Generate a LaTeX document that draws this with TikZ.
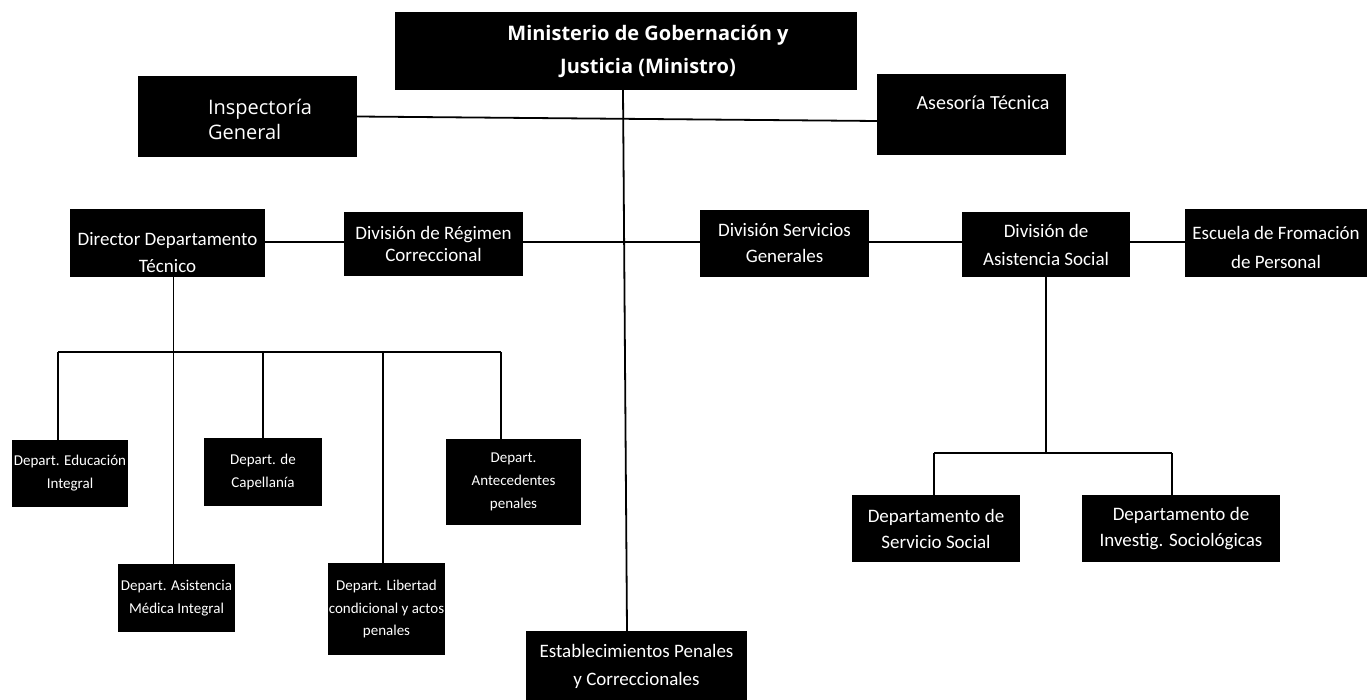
\documentclass[tikz,border=0pt]{standalone}
\usepackage{fontspec}
\setmainfont{Carlito}
\newfontfamily\osans{Open Sans}
\begin{document}
\begin{tikzpicture}[x=1pt,y=-1pt,
  box/.style={fill=black, draw=none, inner sep=0pt, text=white, align=center},
  mid/.style={font=\fontsize{19}{26}\selectfont},
  small/.style={font=\fontsize{15}{23}\selectfont},
  lbl/.style={text=white, align=center, inner sep=0pt},
  link/.style={draw=black, line width=1.8pt}]
\useasboundingbox[fill=white] (0,0) rectangle (1369,700);

% top level
\node[box, minimum width=462, minimum height=78,
  label={[lbl, font=\osans\bfseries\fontsize{20}{33}\selectfont, xshift=22pt]center:{Ministerio de Gobernación y\\Justicia (Ministro)}}]
  (mini) at (626,51) {};
\node[box, minimum width=219, minimum height=81,
  label={[lbl, align=left, font=\osans\fontsize{20}{25}\selectfont, xshift=12.5pt, yshift=-3pt]center:{Inspectoría\\General}}]
  (insp) at (247.5,116.5) {};
\node[box, minimum width=189, minimum height=81,
  label={[lbl, font=\fontsize{20}{26}\selectfont, xshift=11.5pt, yshift=11.5pt]center:{Asesoría Técnica}}]
  (ases) at (971.5,114.5) {};

% second level
\node[box, minimum width=195, minimum height=68,
  label={[lbl, yshift=-10pt, font=\fontsize{19}{27}\selectfont]center:{Director Departamento\\Técnico}}]
  (dir) at (167.5,243) {};
\node[box, minimum width=179, minimum height=64, font=\fontsize{19}{22}\selectfont] (reg) at (433.5,244) {División de Régimen\\Correccional};
\node[box, mid, minimum width=169, minimum height=67] (serv) at (784.5,243.5) {División Servicios\\Generales};
\node[box, minimum width=168, minimum height=65, font=\fontsize{19}{28}\selectfont] (asis) at (1046,244.5) {División de\\Asistencia Social};
\node[box, minimum width=182, minimum height=68,
  label={[lbl, font=\fontsize{19}{29}\selectfont, yshift=-4pt]center:{Escuela de Fromación\\de Personal}}] (esc) at (1276,243) {};

% departments of Director
\node[box, small, minimum width=116, minimum height=67] (edu) at (70,473.5) {Depart. Educación\\Integral};
\node[box, small, minimum width=118, minimum height=68] (cap) at (263,472) {Depart. de\\Capellanía};
\node[box, small, minimum width=135, minimum height=86] (ant) at (513.5,482) {Depart.\\Antecedentes\\penales};
\node[box, small, minimum width=117, minimum height=68] (med) at (176.5,598) {Depart. Asistencia\\Médica Integral};
\node[box, small, minimum width=117, minimum height=92] (lib) at (386.5,609) {Depart. Libertad\\condicional y actos\\penales};

% bottom centre
\node[box, minimum width=221, minimum height=70, font=\fontsize{19}{28}\selectfont] (est) at (636.5,666) {Establecimientos Penales\\y Correccionales};

% departments of social assistance
\node[box, mid, minimum width=168, minimum height=67] (ss) at (936,528.5) {Departamento de\\Servicio Social};
\node[box, mid, minimum width=198, minimum height=67] (inv) at (1181,528.5) {Departamento de\\Investig. Sociológicas};

% connectors
\draw[link] (insp.east) -- ([yshift=-6.5pt]ases.west);
\draw[link] ([xshift=-3pt]mini.south) -- ([xshift=-9.5pt]est.north);
\coordinate (row) at (0,242);
\draw[link] (dir.east |- row) -- (reg.west |- row);
\draw[link] (reg.east |- row) -- (serv.west |- row);
\draw[link] (serv.east |- row) -- (asis.west |- row);
\draw[link] (asis.east |- row) -- (esc.west |- row);

\draw[link] ([xshift=6pt]dir.south) -- ([xshift=6pt]dir.south |- med.north);
\coordinate (b1) at (58,352);
\coordinate (b2) at (263,352);
\coordinate (b3) at (383,352);
\coordinate (b4) at (501,352);
\draw[link] (b1) -- (b4);
\draw[link] (b1) -- (b1 |- edu.north);
\draw[link] (b2) -- (b2 |- cap.north);
\draw[link] (b3) -- (b3 |- lib.north);
\draw[link] (b4) -- (b4 |- ant.north);

\coordinate (s0) at (1046,453);
\coordinate (s1) at (934,453);
\coordinate (s2) at (1172,453);
\draw[link] (asis.south) -- (s0);
\draw[link] (s1) -- (s2);
\draw[link] (s1) -- (s1 |- ss.north);
\draw[link] (s2) -- (s2 |- inv.north);
\end{tikzpicture}
\end{document}
